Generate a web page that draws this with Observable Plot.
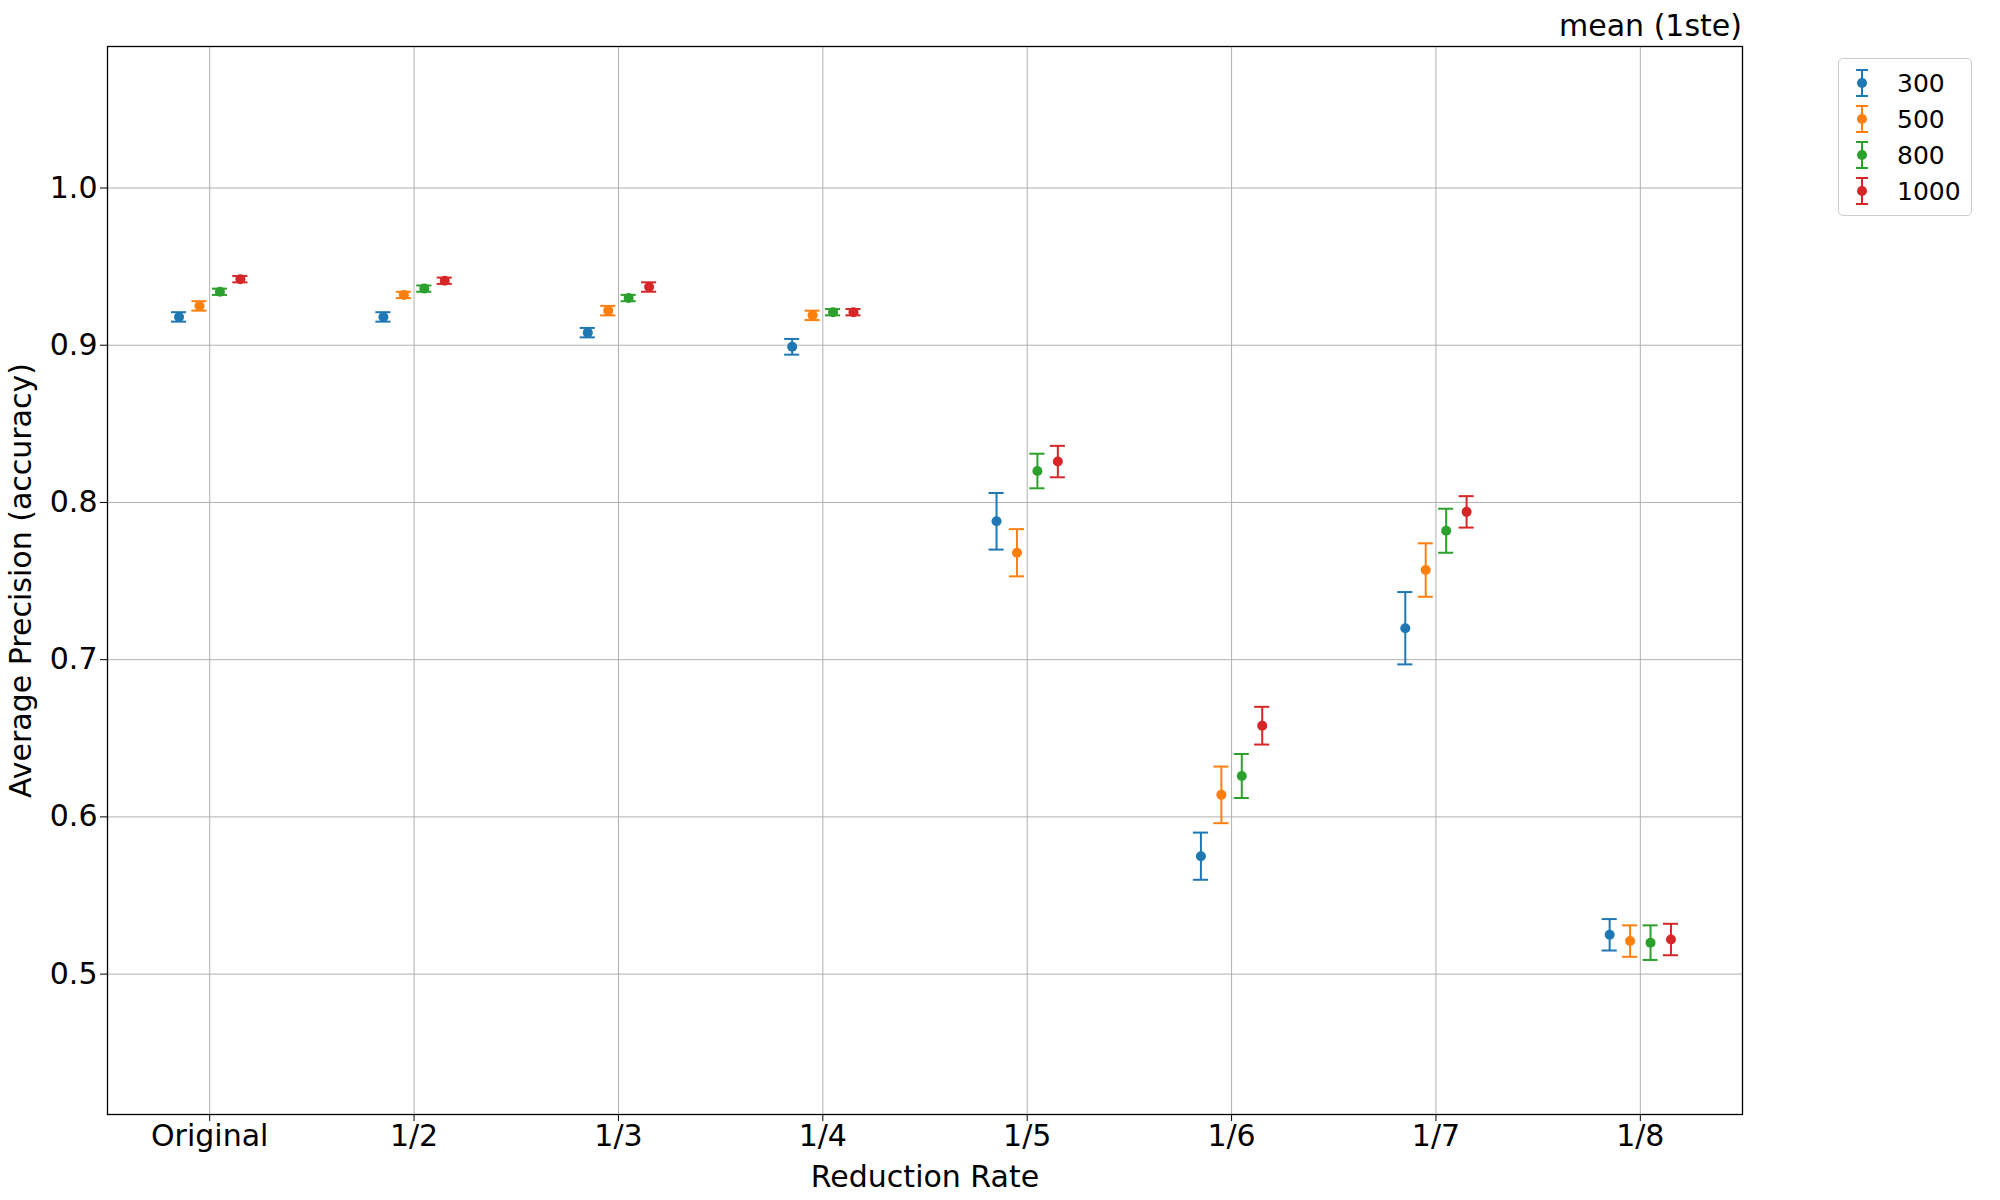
<!DOCTYPE html>
<html>
<head>
<meta charset="utf-8">
<script src="https://cdn.jsdelivr.net/npm/d3@7"></script>
<script src="https://cdn.jsdelivr.net/npm/@observablehq/plot@0.6"></script>
<style>
  body { margin: 0; padding: 0; background: #fff; font-family: "DejaVu Sans", sans-serif; }
  #wrap { position: relative; width: 2000px; height: 1200px; }
  #title { position: absolute; right: 258px; top: 8px; font-size: 30px; }
  #legend { position: absolute; left: 1838px; top: 58px; border: 1px solid #ccc; border-radius: 5px;
    padding: 6px 10px; font-size: 25px; background: #fff; }
  .li { display: flex; align-items: center; height: 36px; }
  .li svg { margin-right: 22px; }
</style>
</head>
<body>
<div id="wrap">
  <div id="chart"></div>
  <div id="title">mean (1ste)</div>
  <div id="legend"></div>
</div>
<script>
  const rates = ["Original", "1/2", "1/3", "1/4", "1/5", "1/6", "1/7", "1/8"]
  const sizes = ["300", "500", "800", "1000"]
  const colors = ["#1f77b4", "#ff7f0e", "#2ca02c", "#d62728"]
  const offsets = [-0.15, -0.05, 0.05, 0.15]

  // mean per rate, one array per size
  const means = {
    "300":  [0.918, 0.918, 0.908, 0.899, 0.788, 0.575, 0.720, 0.525],
    "500":  [0.925, 0.932, 0.922, 0.919, 0.768, 0.614, 0.757, 0.521],
    "800":  [0.934, 0.936, 0.930, 0.921, 0.820, 0.626, 0.782, 0.520],
    "1000": [0.942, 0.941, 0.937, 0.921, 0.826, 0.658, 0.794, 0.522]
  }
  const errs = {
    "300":  [0.003, 0.003, 0.003, 0.005, 0.018, 0.015, 0.023, 0.010],
    "500":  [0.003, 0.002, 0.003, 0.003, 0.015, 0.018, 0.017, 0.010],
    "800":  [0.002, 0.002, 0.002, 0.002, 0.011, 0.014, 0.014, 0.011],
    "1000": [0.002, 0.002, 0.003, 0.002, 0.010, 0.012, 0.010, 0.010]
  }

  const cap = 0.037
  const data = []
  sizes.forEach((s, si) => rates.forEach((r, ri) => {
    const m = means[s][ri], e = errs[s][ri], x = ri + offsets[si]
    data.push({size: s, x, m, lo: m - e, hi: m + e, xa: x - cap, xb: x + cap})
  }))

  const chart = Plot.plot({
    width: 2000, height: 1200,
    marginLeft: 107, marginRight: 258, marginTop: 46, marginBottom: 86,
    style: {fontFamily: "DejaVu Sans, sans-serif", fontSize: "30px", color: "#000"},
    x: {domain: [-0.5, 7.5], ticks: d3.range(8), tickFormat: i => rates[i], tickSize: 7,
        label: "Reduction Rate", labelAnchor: "center", labelArrow: "none", labelOffset: 72},
    y: {domain: [0.4107, 1.09], ticks: [0.5, 0.6, 0.7, 0.8, 0.9, 1.0], tickFormat: d3.format(".1f"), tickSize: 7,
        label: "Average Precision (accuracy)", labelAnchor: "center", labelArrow: "none", labelOffset: 98},
    color: {domain: sizes, range: colors},
    marks: [
      Plot.gridX(d3.range(8), {stroke: "#b0b0b0", strokeOpacity: 1, strokeWidth: 1}),
      Plot.gridY([0.5, 0.6, 0.7, 0.8, 0.9, 1.0], {stroke: "#b0b0b0", strokeOpacity: 1, strokeWidth: 1}),
      Plot.ruleX(data, {x: "x", y1: "lo", y2: "hi", stroke: "size", strokeWidth: 2}),
      Plot.ruleY(data, {y: "lo", x1: "xa", x2: "xb", stroke: "size", strokeWidth: 2}),
      Plot.ruleY(data, {y: "hi", x1: "xa", x2: "xb", stroke: "size", strokeWidth: 2}),
      Plot.dot(data, {x: "x", y: "m", fill: "size", r: 5}),
      Plot.frame({stroke: "#000", strokeWidth: 1.3})
    ]
  })
  document.getElementById("chart").append(chart)

  const legend = document.getElementById("legend")
  sizes.forEach((s, i) => {
    const c = colors[i]
    const row = document.createElement("div")
    row.className = "li"
    row.innerHTML = `<svg width="26" height="30"><line x1="13" y1="2" x2="13" y2="28" stroke="${c}" stroke-width="2"/>
      <line x1="7" y1="2" x2="19" y2="2" stroke="${c}" stroke-width="2"/>
      <line x1="7" y1="28" x2="19" y2="28" stroke="${c}" stroke-width="2"/>
      <circle cx="13" cy="15" r="5" fill="${c}"/></svg><span>${s}</span>`
    legend.append(row)
  })
</script>
</body>
</html>
